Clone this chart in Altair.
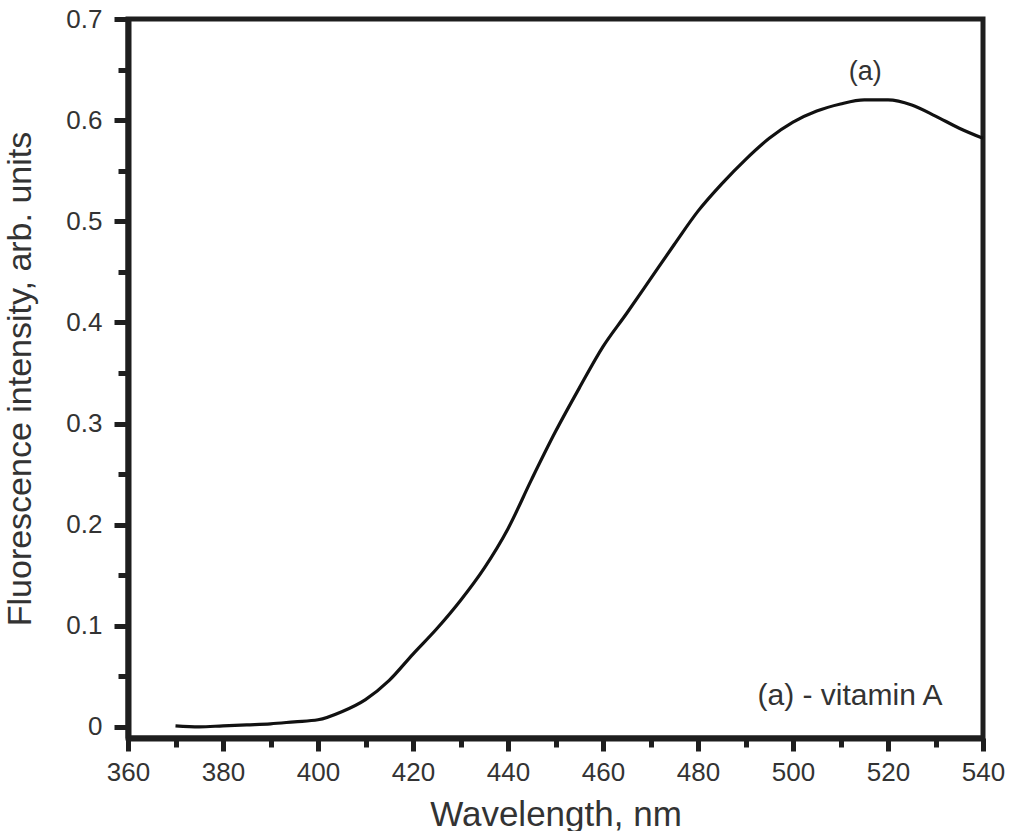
import altair as alt
import pandas as pd

# Fluorescence emission spectrum of vitamin A
wavelength = [370, 375, 380, 385, 390, 395, 400, 405, 410, 415, 420, 425, 430,
              435, 440, 445, 450, 455, 460, 465, 470, 475, 480, 485, 490, 495,
              500, 505, 510, 515, 520, 525, 530, 535, 540]
intensity = [0.001, 0.000, 0.001, 0.002, 0.003, 0.005, 0.007, 0.015, 0.027,
             0.046, 0.072, 0.097, 0.125, 0.157, 0.196, 0.245, 0.292, 0.335,
             0.376, 0.409, 0.443, 0.477, 0.510, 0.537, 0.561, 0.582, 0.598,
             0.609, 0.616, 0.620, 0.620, 0.615, 0.604, 0.592, 0.582]

x_ticks = [360, 370, 380, 390, 400, 410, 420, 430, 440, 450, 460, 470, 480,
           490, 500, 510, 520, 530, 540]
y_ticks = [0, 0.05, 0.1, 0.15, 0.2, 0.25, 0.3, 0.35, 0.4, 0.45, 0.5, 0.55,
           0.6, 0.65, 0.7]

notes_text = ["(a)", "(a) - vitamin A"]
notes_x = [515.2, 512.0]
notes_y = [0.648, 0.031]
notes_size = [27, 30]

spectrum = pd.DataFrame({"wl": wavelength, "fi": intensity})
notes = pd.DataFrame({"t": notes_text, "x": notes_x, "y": notes_y, "s": notes_size})

FONT = "Liberation Sans"
INK = "#1e1e1e"
TXT = "#333333"

x_scale = alt.Scale(domain=[360, 540], nice=False, zero=False)
y_scale = alt.Scale(domain=[-0.011, 0.7], nice=False, zero=False)

x_axis = alt.Axis(
    values=x_ticks,
    labelExpr="datum.value % 20 == 0 ? datum.label : ''",
    tickSize={"condition": {"test": "datum.value % 20 == 0", "value": 13}, "value": 9},
    tickWidth=5, tickColor=INK, domainWidth=6, domainColor=INK,
    labelFontSize=26, labelFont=FONT, labelColor=TXT, labelPadding=8,
    labelFlush=False, labelOverlap=False, grid=False,
    title="Wavelength, nm", titleFont=FONT, titleFontSize=35,
    titleFontWeight="normal", titleColor=TXT, titlePadding=12,
)
y_axis = alt.Axis(
    values=y_ticks,
    labelExpr="round(datum.value * 100) % 10 == 0 ? (datum.value == 0 ? '0' : format(datum.value, '.1f')) : ''",
    tickSize={"condition": {"test": "round(datum.value * 100) % 10 == 0", "value": 14}, "value": 10},
    tickWidth=5, tickColor=INK, domainWidth=6, domainColor=INK,
    labelFontSize=26, labelFont=FONT, labelColor=TXT, labelPadding=12,
    labelFlush=False, labelOverlap=False, grid=False,
    title="Fluorescence intensity, arb. units", titleFont=FONT, titleFontSize=34,
    titleFontWeight="normal", titleColor=TXT, titlePadding=28,
)

line = alt.Chart(spectrum).mark_line(
    color="#111111", strokeWidth=3.2, interpolate="monotone"
).encode(
    x=alt.X("wl:Q", scale=x_scale, axis=x_axis),
    y=alt.Y("fi:Q", scale=y_scale, axis=y_axis),
)

labels = alt.Chart(notes).mark_text(
    font=FONT, color=TXT, align="center", baseline="middle"
).encode(
    x=alt.X("x:Q", scale=x_scale),
    y=alt.Y("y:Q", scale=y_scale),
    text="t:N",
    size=alt.Size("s:Q", scale=None, legend=None),
)

chart = (
    alt.layer(line, labels)
    .properties(
        width=855,
        height=719,
        autosize=alt.AutoSizeParams(type="none"),
        padding={"left": 128, "top": 19, "right": 28, "bottom": 93},
        background="white",
    )
    .configure_view(stroke=INK, strokeWidth=5)
)

chart.save("out.html", embed_options={"renderer": "svg", "actions": False})
